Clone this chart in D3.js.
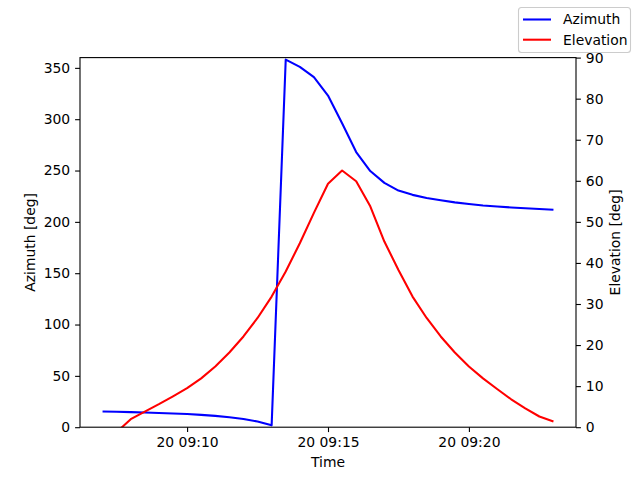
<!DOCTYPE html>
<html>
<head>
<meta charset="utf-8">
<script src="https://cdn.jsdelivr.net/npm/d3@7"></script>
<style>
  body { margin: 0; background: #fff; }
  text { font-family: "DejaVu Sans", sans-serif; }
</style>
</head>
<body>
<div id="chart"></div>
<script>
// samples every 30 s from 09:07:00 to 09:23:00
var startTime = new Date(2024, 0, 20, 9, 7, 0);
var stepSeconds = 30;

var azimuth = [15.3, 15.0, 14.7, 14.3, 13.9, 13.4, 12.8, 12.0, 11.0, 9.7, 8.0, 5.5, 1.8,
  358, 351, 341, 323, 296, 268, 249.5, 238, 230.5, 226.3, 223.3, 221, 219, 217.4,
  216, 215, 214, 213.2, 212.5, 211.8];

var elevation = [-3.0, -1.2, 1.95, 3.8, 5.6, 7.5, 9.5, 11.9, 14.8, 18.2, 22.1, 26.6, 31.8,
  37.9, 44.8, 52.2, 59.3, 62.5, 59.9, 53.8, 45.2, 38.3, 31.8, 26.6, 22.1, 18.2, 14.8,
  11.9, 9.3, 6.8, 4.6, 2.6, 1.4];

var azTicks = [0, 50, 100, 150, 200, 250, 300, 350];
var elTicks = [0, 10, 20, 30, 40, 50, 60, 70, 80, 90];
var seriesNames = ['Azimuth', 'Elevation'];
var seriesColors = ['blue', 'red'];

var W = 640, H = 480;
// plot box (names chosen so they don't clash with window.top)
var plotL = 80, plotR = 576, plotT = 57.6, plotB = 427.2;

var times = azimuth.map(function(d, i) {
  return new Date(startTime.getTime() + i * stepSeconds * 1000);
});

// matplotlib style 5% margins on the time axis
var t0 = times[0].getTime(), t1 = times[times.length - 1].getTime();
var pad = (t1 - t0) * 0.05;

var x = d3.scaleTime()
  .domain([new Date(t0 - pad), new Date(t1 + pad)])
  .range([plotL, plotR]);
var yAz = d3.scaleLinear().domain([0, 360]).range([plotB, plotT]);
var yEl = d3.scaleLinear().domain([0, 90]).range([plotB, plotT]);

var svg = d3.select('#chart').append('svg')
  .attr('width', W)
  .attr('height', H);

svg.append('defs').append('clipPath')
  .attr('id', 'plotclip')
  .append('rect')
  .attr('x', plotL).attr('y', plotT)
  .attr('width', plotR - plotL).attr('height', plotB - plotT);

var fs = 13.9;

function styleAxis(g) {
  g.select('.domain').remove();
  g.selectAll('line').attr('stroke', '#000').attr('stroke-width', 1.1);
  g.selectAll('text').attr('font-size', fs).attr('fill', '#000')
    .style('font-family', '"DejaVu Sans", sans-serif');
}

svg.append('g')
  .attr('transform', 'translate(0,' + plotB + ')')
  .call(d3.axisBottom(x)
    .ticks(d3.timeMinute.every(5))
    .tickFormat(d3.timeFormat('%d %H:%M'))
    .tickSize(4.9).tickPadding(4.9))
  .call(styleAxis);

svg.append('g')
  .attr('transform', 'translate(' + plotL + ',0)')
  .call(d3.axisLeft(yAz).tickValues(azTicks).tickSize(4.9).tickPadding(4.9))
  .call(styleAxis);

svg.append('g')
  .attr('transform', 'translate(' + plotR + ',0)')
  .call(d3.axisRight(yEl).tickValues(elTicks).tickSize(4.9).tickPadding(4.9))
  .call(styleAxis);

var plot = svg.append('g').attr('clip-path', 'url(#plotclip)');

var azLine = d3.line()
  .x(function(d, i) { return x(times[i]); })
  .y(function(d) { return yAz(d); });
var elLine = d3.line()
  .x(function(d, i) { return x(times[i]); })
  .y(function(d) { return yEl(d); });

plot.append('path')
  .datum(azimuth)
  .attr('d', azLine)
  .attr('fill', 'none')
  .attr('stroke', seriesColors[0])
  .attr('stroke-width', 2.08)
  .attr('stroke-linejoin', 'round');

plot.append('path')
  .datum(elevation)
  .attr('d', elLine)
  .attr('fill', 'none')
  .attr('stroke', seriesColors[1])
  .attr('stroke-width', 2.08)
  .attr('stroke-linejoin', 'round');

// frame
svg.append('rect')
  .attr('x', plotL).attr('y', plotT)
  .attr('width', plotR - plotL).attr('height', plotB - plotT)
  .attr('fill', 'none')
  .attr('stroke', '#000')
  .attr('stroke-width', 1.1);

// axis labels
svg.append('text')
  .attr('x', (plotL + plotR) / 2).attr('y', 467)
  .attr('text-anchor', 'middle')
  .attr('font-size', fs)
  .text('Time');

svg.append('text')
  .attr('transform', 'translate(35,' + ((plotT + plotB) / 2) + ') rotate(-90)')
  .attr('text-anchor', 'middle')
  .attr('font-size', fs)
  .text('Azimuth [deg]');

svg.append('text')
  .attr('transform', 'translate(620,' + ((plotT + plotB) / 2) + ') rotate(-90)')
  .attr('text-anchor', 'middle')
  .attr('font-size', fs)
  .text('Elevation [deg]');

// legend in the figure's upper right corner
var legend = svg.append('g');
legend.append('rect')
  .attr('x', 518.5).attr('y', 7.5)
  .attr('width', 112).attr('height', 45)
  .attr('rx', 3)
  .attr('fill', '#fff')
  .attr('fill-opacity', 0.8)
  .attr('stroke', '#ccc')
  .attr('stroke-width', 1.1);

seriesNames.forEach(function(name, i) {
  var ly = 19.5 + i * 20.2;
  legend.append('line')
    .attr('x1', 523).attr('x2', 551)
    .attr('y1', ly).attr('y2', ly)
    .attr('stroke', seriesColors[i])
    .attr('stroke-width', 2.08);
  legend.append('text')
    .attr('x', 563).attr('y', ly)
    .attr('dy', '0.35em')
    .attr('font-size', fs)
    .text(name);
});
</script>
</body>
</html>
